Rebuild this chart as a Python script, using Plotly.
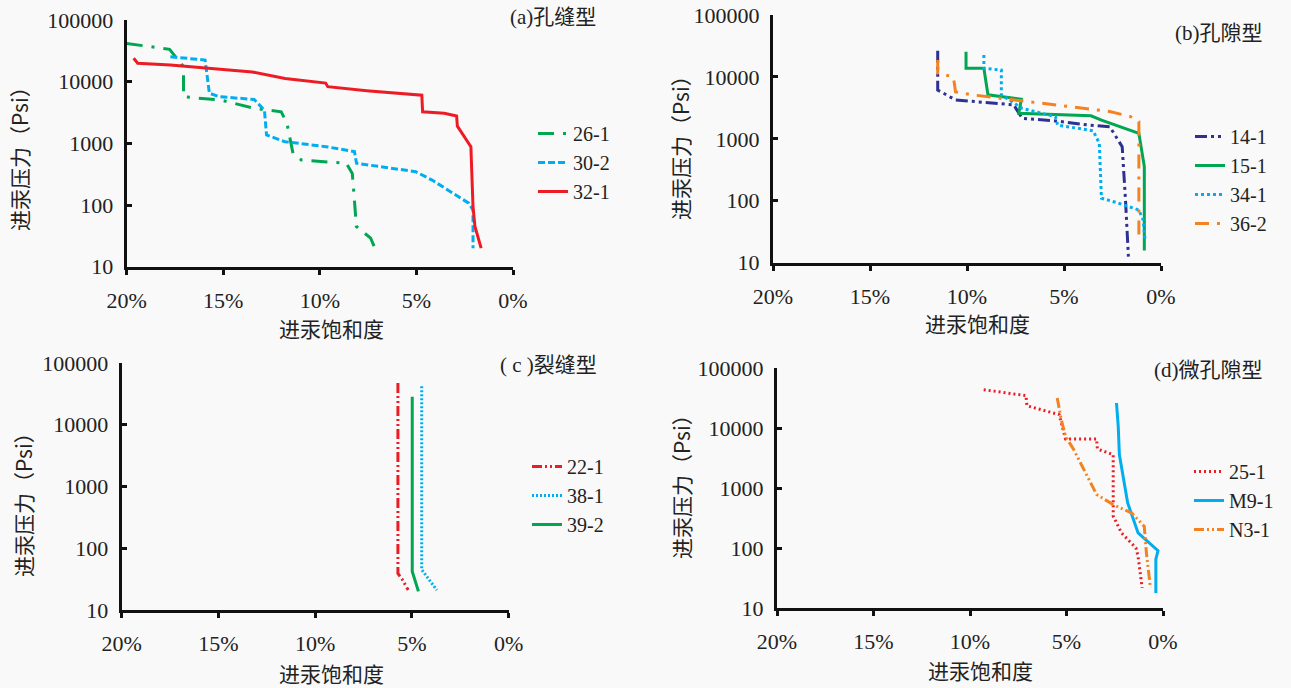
import plotly.graph_objects as go

# ---------------- data ----------------
# (a) 孔缝型
a_26_1_x = [20.0, 17.78, 17.06, 17.06, 15.09, 13.4, 12.0, 11.7, 11.39, 10.96, 8.63, 8.32, 8.21, 8.11, 7.37, 7.15]
a_26_1_y = [41600, 33500, 17500, 5700, 5000, 3700, 3250, 2100, 690, 537, 475, 325, 120, 45, 29, 20]
a_30_2_x = [17.74, 15.94, 15.72, 15.2, 13.4, 12.87, 12.76, 11.81, 9.69, 8.21, 8.1, 5.04, 4.19, 2.29, 2.07, 2.07]
a_30_2_y = [25400, 22400, 6500, 5700, 5150, 3450, 1365, 1065, 884, 733, 475, 347, 254, 107, 83, 20]
a_32_1_x = [19.64, 19.43, 17.74, 15.4, 13.5, 11.8, 9.7, 9.59, 7.58, 4.72, 4.68, 3.56, 2.92, 2.88, 2.18, 2.07, 1.97, 1.65]
a_32_1_y = [24000, 19900, 18700, 16400, 14400, 11300, 9500, 8300, 7150, 6050, 3250, 3080, 2780, 1900, 884, 93, 45, 20]

# (b) 孔隙型
b_14_1_x = [11.51, 11.51, 10.59, 9.09, 7.58, 7.48, 7.15, 5.44, 3.72, 2.64, 2.0, 1.83, 1.68]
b_14_1_y = [26500, 6150, 4240, 3840, 3540, 3100, 2140, 1950, 1670, 1570, 746, 103, 12.5]
b_15_1_x = [10.05, 10.05, 9.13, 8.92, 7.2, 7.33, 3.61, 3.07, 1.14, 0.86, 0.86]
b_15_1_y = [25600, 13800, 13800, 5140, 4370, 2590, 2360, 2000, 1230, 356, 15.8]
b_34_1_x = [9.13, 9.13, 8.23, 8.23, 7.15, 5.44, 5.33, 3.5, 3.18, 3.07, 2.21, 1.14, 0.92, 0.82]
b_34_1_y = [22600, 13800, 12900, 5140, 3100, 2280, 1670, 1350, 850, 110, 92, 71, 49, 23]
b_36_2_x = [11.51, 11.51, 10.7, 10.59, 9.73, 7.58, 5.0, 2.64, 1.57, 1.14, 1.14]
b_36_2_y = [18800, 11500, 10000, 5730, 5140, 4270, 3400, 2760, 2290, 1900, 23]

# (c) 裂缝型
c_22_1_x = [5.72, 5.72, 5.51, 5.19]
c_22_1_y = [47400, 39, 31.8, 21]
c_38_1_x = [4.49, 4.49, 3.71]
c_38_1_y = [42000, 45, 21]
c_39_2_x = [4.98, 4.98, 4.66]
c_39_2_y = [28300, 42, 20]

# (d) 微孔隙型
d_25_1_x = [9.29, 7.1, 7.05, 5.38, 5.05, 3.44, 3.4, 2.58, 2.58, 2.15, 1.40, 1.29, 1.08]
d_25_1_y = [43500, 34600, 23500, 16700, 6550, 6550, 4470, 3590, 340, 178, 100, 72, 21.6]
d_m9_1_x = [2.41, 2.32, 2.26, 1.83, 1.29, 0.26, 0.37, 0.37]
d_m9_1_y = [26100, 10800, 3590, 563, 178, 90, 65, 17.8]
d_n3_1_x = [5.48, 5.27, 5.05, 4.62, 3.44, 2.58, 1.61, 0.97, 0.86, 0.65]
d_n3_1_y = [31600, 13800, 7270, 4330, 780, 528, 380, 229, 83, 21.6]

x_ticks = [20, 15, 10, 5, 0]
x_tick_text = ["20%", "15%", "10%", "5%", "0%"]
y_ticks = [10, 100, 1000, 10000, 100000]
y_tick_text = ["10", "100", "1000", "10000", "100000"]

panel_titles = ["(a)孔缝型", "(b)孔隙型", "( c )裂缝型", "(d)微孔隙型"]
x_title = "进汞饱和度"
y_title = "进汞压力（Psi）"

RED = "#ed1c24"
BLUE = "#00aeef"
GREEN = "#00a651"
ORANGE = "#f58220"
NAVY = "#2e3192"

W, H = 1291, 688
SERIF = "'Liberation Serif', 'Times New Roman', 'DejaVu Serif', 'Noto Sans CJK SC', serif"
CJK = "'Noto Sans CJK SC', 'Liberation Serif', sans-serif"
TXT = "#222222"

series = [
    # panel, name, x, y, color, dash
    (1, "26-1", a_26_1_x, a_26_1_y, GREEN, "16px,9px,3px,9px"),
    (1, "30-2", a_30_2_x, a_30_2_y, BLUE, "7px,3px"),
    (1, "32-1", a_32_1_x, a_32_1_y, RED, "solid"),
    (2, "14-1", b_14_1_x, b_14_1_y, NAVY, "12px,4px,3px,4px,3px,4px"),
    (2, "15-1", b_15_1_x, b_15_1_y, GREEN, "solid"),
    (2, "34-1", b_34_1_x, b_34_1_y, BLUE, "3px,3px"),
    (2, "36-2", b_36_2_x, b_36_2_y, ORANGE, "14px,8px,3px,8px"),
    (3, "22-1", c_22_1_x, c_22_1_y, RED, "10px,3px,2px,3px,2px,3px"),
    (3, "38-1", c_38_1_x, c_38_1_y, BLUE, "2px,2px"),
    (3, "39-2", c_39_2_x, c_39_2_y, GREEN, "solid"),
    (4, "25-1", d_25_1_x, d_25_1_y, RED, "2px,3px"),
    (4, "M9-1", d_m9_1_x, d_m9_1_y, BLUE, "solid"),
    (4, "N3-1", d_n3_1_x, d_n3_1_y, ORANGE, "10px,3px,2px,3px,2px,3px"),
]

fig = go.Figure()
legend_names = {1: "legend", 2: "legend2", 3: "legend3", 4: "legend4"}
for p, name, xs, ys, col, dash in series:
    sfx = "" if p == 1 else str(p)
    fig.add_trace(go.Scatter(
        x=xs, y=ys, name=name, mode="lines",
        line=dict(color=col, width=3, dash=dash),
        xaxis="x" + sfx, yaxis="y" + sfx,
        legend=legend_names[p],
    ))

# pixel boxes: (left, right, top, bottom)
boxes = {
    1: (126.7, 513.0, 20.0, 266.7),
    2: (773.0, 1161.0, 15.0, 262.7),
    3: (121.6, 508.6, 363.0, 610.0),
    4: (777.0, 1163.0, 368.0, 608.0),
}

def px(x):
    return x / W

def py(y):
    return 1 - y / H

layout = dict(
    width=W, height=H,
    margin=dict(l=0, r=0, t=0, b=0, autoexpand=False),
    paper_bgcolor="#f9f9f9", plot_bgcolor="rgba(0,0,0,0)",
    font=dict(family=SERIF, color=TXT, size=20),
    showlegend=True,
)

for p, (l, r, t, b) in boxes.items():
    sfx = "" if p == 1 else str(p)
    layout["xaxis" + sfx] = dict(
        domain=[px(l), px(r)], anchor="y" + sfx, automargin=False,
        range=[20, 0], tickvals=x_ticks, ticktext=x_tick_text,
        showline=True, linecolor="#111", linewidth=3,
        ticks="outside", ticklen=5, tickwidth=3, tickcolor="#111",
        showgrid=False, zeroline=False,
        tickfont=dict(family=SERIF, size=22, color=TXT),
        ticklabelstandoff=7,
    )
    layout["yaxis" + sfx] = dict(
        domain=[py(b), py(t)], anchor="x" + sfx, automargin=False,
        type="log", range=[1, 5], tickvals=y_ticks, ticktext=y_tick_text,
        showline=True, linecolor="#111", linewidth=3,
        ticks="inside", ticklen=5, tickwidth=3, tickcolor="#111",
        showgrid=False, zeroline=False,
        tickfont=dict(family=SERIF, size=22, color=TXT),
        ticklabelstandoff=6,
    )

# legends (pixel position of top-left)
legend_pos = {1: (533, 114), 2: (1190, 117), 3: (527, 447), 4: (1189, 452)}
for p, (lx, ly) in legend_pos.items():
    layout[legend_names[p]] = dict(
        x=px(lx), y=py(ly), xanchor="left", yanchor="top",
        bgcolor="rgba(0,0,0,0)", borderwidth=0,
        font=dict(family=SERIF, size=20, color=TXT),
        tracegroupgap=0, itemwidth=30,
    )

fig.update_layout(**layout)

# panel titles (right edge, center y)
title_pos = {1: (598, 17), 2: (1265, 33), 3: (599, 365), 4: (1265, 370)}
for p, (tx, ty) in title_pos.items():
    fig.add_annotation(text=panel_titles[p - 1], x=px(tx), y=py(ty), xref="paper", yref="paper",
                       xanchor="right", yanchor="middle", showarrow=False,
                       font=dict(family=SERIF, size=21, color=TXT))

# axis titles
xt_pos = {1: (331, 328), 2: (977, 323), 3: (331, 673), 4: (980, 670)}
yt_pos = {1: (19, 154), 2: (680, 143), 3: (23, 500), 4: (681, 482)}
for p in boxes:
    x0, y0 = xt_pos[p]
    fig.add_annotation(text=x_title, x=px(x0), y=py(y0), xref="paper", yref="paper",
                       xanchor="center", yanchor="middle", showarrow=False,
                       font=dict(family=CJK, size=21, color=TXT))
    x1, y1 = yt_pos[p]
    fig.add_annotation(text=y_title, x=px(x1), y=py(y1), xref="paper", yref="paper",
                       xanchor="center", yanchor="middle", showarrow=False, textangle=-90,
                       font=dict(family=CJK, size=21, color=TXT))

fig.write_html(
    "out.html",
    config={"displayModeBar": False},
    post_script="document.body.style.margin='0';document.body.style.padding='0';"
                "document.documentElement.style.overflow='hidden';",
)
